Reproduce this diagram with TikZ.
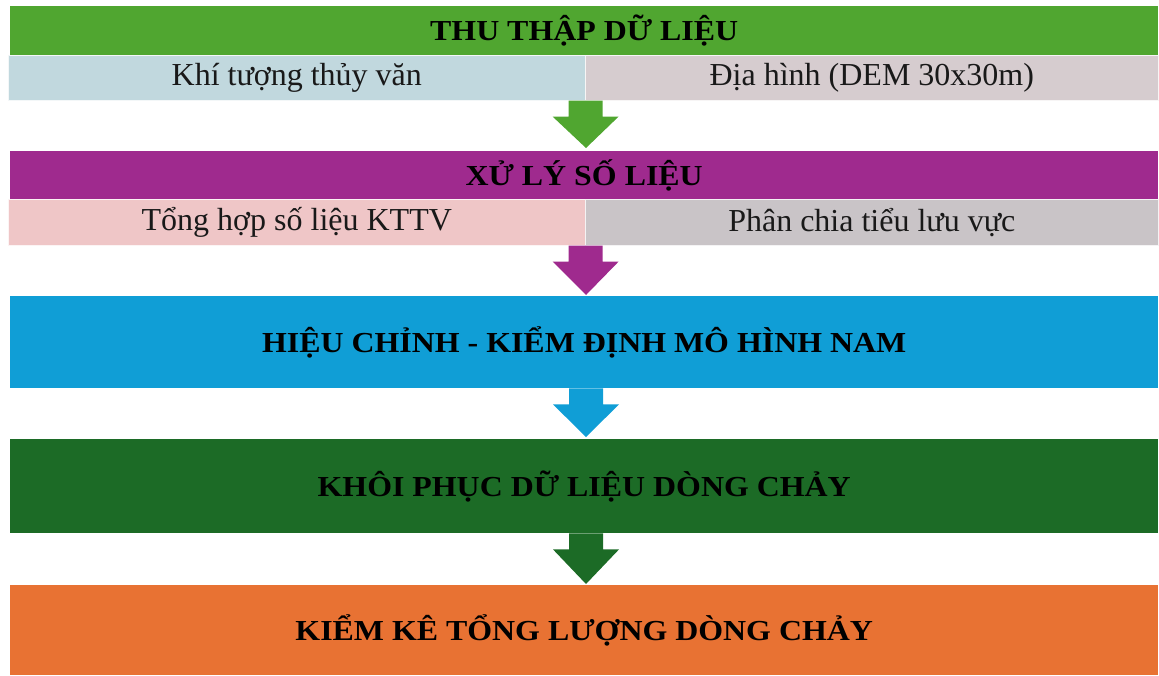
\documentclass[tikz,border=0pt]{standalone}
\usepackage{fontspec}
\setmainfont{Liberation Serif}
\newfontfamily\titlefont[FakeStretch=1.1]{Liberation Serif}
\usetikzlibrary{calc}
\definecolor{cGreen}{HTML}{50A630}
\definecolor{cLBlue}{HTML}{C1D8DE}
\definecolor{cPGray}{HTML}{D6CCCF}
\definecolor{cPurple}{HTML}{9F2A8E}
\definecolor{cPink}{HTML}{EFC6C7}
\definecolor{cGray}{HTML}{C9C4C7}
\definecolor{cBlue}{HTML}{109ED6}
\definecolor{cDGreen}{HTML}{1C6B26}
\definecolor{cOrange}{HTML}{E87233}
\tikzset{
  bar/.style={rectangle, anchor=north west, inner sep=0pt, minimum width=1148pt, font=\titlefont\bfseries\fontsize{29}{32}\selectfont, text=black},
  cell/.style={rectangle, anchor=north west, inner sep=0pt, font=\fontsize{32}{36}\selectfont, text=black!90, draw=white!80!cLBlue, line width=0.6pt},
}
\newcommand\flowarr[3]{% #1 colour, #2 top coordinate, #3 tip coordinate
  \fill[#1] ($(#2)+(-17,0)$) -- ($(#2)+(17,0)$) -- ($(#2)+(17,16)$) -- ($(#2)+(33,16)$)
    -- (#3) -- ($(#2)+(-33,16)$) -- ($(#2)+(-17,16)$) -- cycle;}
\begin{document}
\begin{tikzpicture}[x=1pt,y=-1pt]
\useasboundingbox (0,0) rectangle (1159,675);
% row 1
\node[bar, fill=cGreen, minimum height=49pt] (b1) at (10,6) {THU THẬP DỮ LIỆU};
\node[cell, fill=cLBlue, minimum width=577pt, minimum height=45pt] (c1a) at (8,55) {Khí tượng thủy văn};
\node[cell, fill=cPGray, draw=white!80!cPGray, minimum width=573pt, minimum height=45pt] (c1b) at (585,55) {Địa hình (DEM 30x30m)};
% row 2
\node[bar, fill=cPurple, minimum height=48pt] (b2) at (10,151) {XỬ LÝ SỐ LIỆU};
\node[cell, fill=cPink, draw=white!80!cPink, minimum width=577pt, minimum height=46pt] (c2a) at (8,199) {Tổng hợp số liệu KTTV};
\node[cell, fill=cGray, draw=white!80!cGray, minimum width=573pt, minimum height=46pt] (c2b) at (585,199) {Phân chia tiểu lưu vực};
% row 3-5
\node[bar, fill=cBlue, minimum height=92pt] (b3) at (10,296) {HIỆU CHỈNH - KIỂM ĐỊNH MÔ HÌNH NAM};
\node[bar, fill=cDGreen, minimum height=94pt] (b4) at (10,439) {KHÔI PHỤC DỮ LIỆU DÒNG CHẢY};
\node[bar, fill=cOrange, minimum height=90pt] (b5) at (10,585) {KIỂM KÊ TỔNG LƯỢNG DÒNG CHẢY};
% arrows
\coordinate (t1) at (c1a.south east);
\coordinate (p1) at ($(b2.north west)+(576,-3)$);
\flowarr{cGreen}{t1}{p1}
\coordinate (t2) at (c2a.south east);
\coordinate (p2) at ($(b2.north west)+(576,144)$);
\flowarr{cPurple}{t2}{p2}
\coordinate (t3) at ($(b3.south west)+(576,0)$);
\coordinate (p3) at ($(b4.north west)+(576,-2)$);
\flowarr{cBlue}{t3}{p3}
\coordinate (t4) at ($(b4.south west)+(576,0)$);
\coordinate (p4) at ($(b5.north west)+(576,-1)$);
\flowarr{cDGreen}{t4}{p4}
\end{tikzpicture}
\end{document}
